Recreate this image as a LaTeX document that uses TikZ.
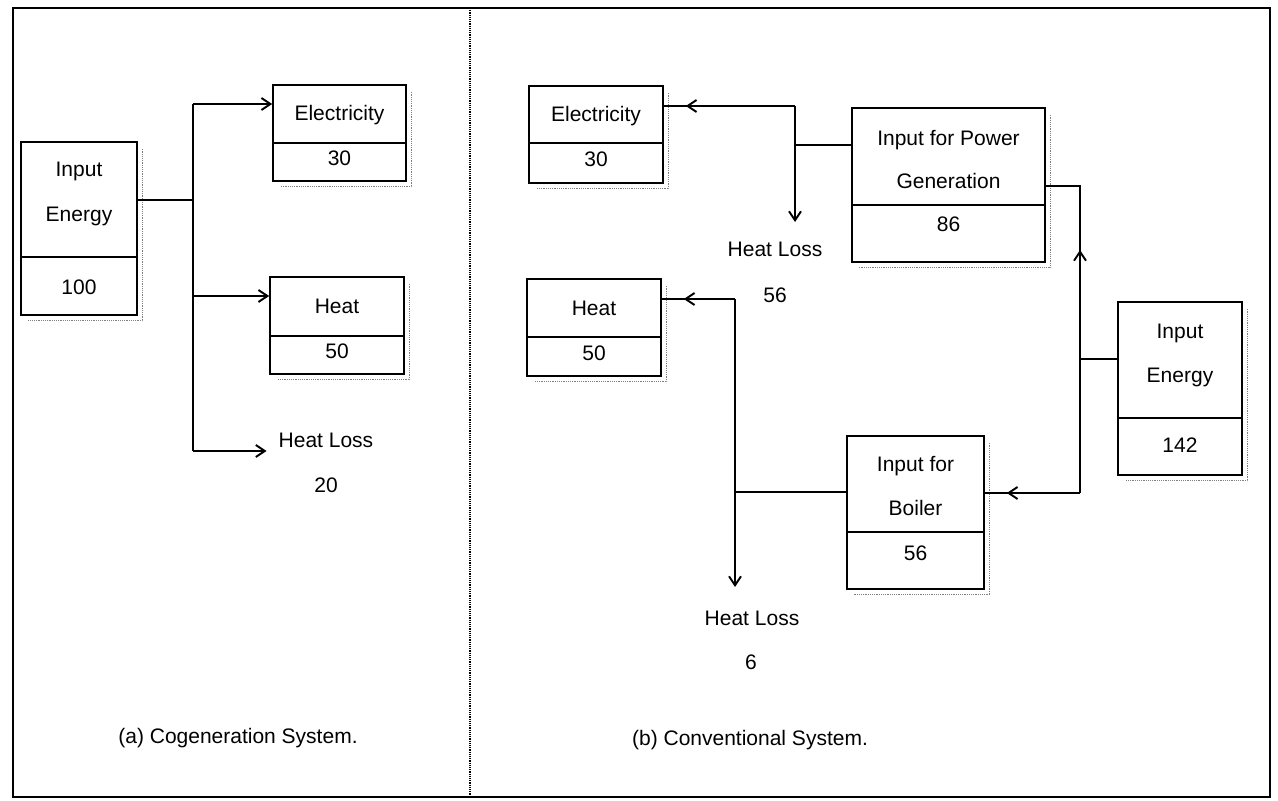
\documentclass[tikz,border=0pt]{standalone}
\usepackage{fontspec}
\setmainfont{Liberation Sans}
\usetikzlibrary{arrows.meta,decorations.markings,fit}
\newcommand{\mkbox}[6]{%
  \node[box, fit={(#2,#3) (#4,#5)}] (#1) {};
  \draw[box] (#1.west |- 0,#6) -- (#1.east |- 0,#6);
  \draw[shade] ([xshift=5pt,yshift=-8pt]#1.north east) -- ([xshift=5pt,yshift=-5pt]#1.south east) -- ([xshift=8pt,yshift=-5pt]#1.south west);
}
\begin{document}
\begin{tikzpicture}[x=1pt,y=-1pt,
  box/.style={draw, line width=1.7pt, inner sep=0pt},
  lbl/.style={font=\fontsize{21}{25}\selectfont, inner sep=0pt, text height=0.72em, text depth=0pt},
  conn/.style={line width=1.4pt},
  arr/.style={conn, -{Straight Barb[length=9pt,width=12pt,line width=1.9pt]}},
  shade/.style={gray, densely dotted, line width=1.2pt},
  midarr/.style={conn, postaction={decorate}, decoration={markings, mark=at position #1 with {\arrow{Straight Barb[length=9pt,width=12pt,line width=1.9pt]}}}},
]
\useasboundingbox (0,0) rectangle (1278,801);
% frame
\draw[line width=1.7pt] (13,8) rectangle (1270,797);
\draw[densely dotted, line width=1.2pt] (470,8) -- (470,797);

% ---------- (a) cogeneration ----------
\mkbox{ie1}{21}{142}{137}{315}{257}
\node[lbl] (ie1a) at (79,173) {Input};
\node[lbl] (ie1b) at (79,218) {Energy};
\node[lbl] (ie1c) at (79,291) {100};

\mkbox{el1}{273}{85}{406}{181}{143}
\node[lbl] (el1a) at (339.5,117) {Electricity};
\node[lbl] (el1b) at (339.5,162) {30};

\mkbox{he1}{270}{277}{404}{374}{336}
\node[lbl] (he1a) at (337,310) {Heat};
\node[lbl] (he1b) at (337,355) {50};

\node[lbl] (hl1) at (326,444) {Heat Loss};
\node[lbl] (hl1v) at (326,489) {20};

\coordinate (j1) at (193,200);
\coordinate (j1t) at (193,104);
\coordinate (j1m) at (193,296);
\coordinate (j1b) at (193,451);
\draw[conn] (ie1.east |- j1) -- (j1);
\draw[conn] (j1t) -- (j1b);
\draw[arr] (j1t) -- (j1t -| el1.west);
\draw[arr] (j1m) -- (j1m -| he1.west);
\draw[arr] (j1b) -- ([xshift=-12pt]j1b -| hl1.west);

\node[lbl] (capa) at (238,740) {(a) Cogeneration System.};

% ---------- (b) conventional ----------
\mkbox{el2}{529}{86}{663}{183}{143}
\node[lbl] (el2a) at (596,118) {Electricity};
\node[lbl] (el2b) at (596,163) {30};

\mkbox{he2}{527}{279}{661}{376}{337}
\node[lbl] (he2a) at (594,312) {Heat};
\node[lbl] (he2b) at (594,357) {50};

\mkbox{pg}{852}{108}{1045}{262}{205}
\node[lbl] (pga) at (948.5,142) {Input for Power};
\node[lbl] (pgb) at (948.5,185) {Generation};
\node[lbl] (pgc) at (948.5,228) {86};

\mkbox{bo}{847}{436}{984}{589}{532}
\node[lbl] (boa) at (915.5,468) {Input for};
\node[lbl] (bob) at (915.5,512) {Boiler};
\node[lbl] (boc) at (915.5,557) {56};

\mkbox{ie2}{1118}{302}{1242}{475}{418}
\node[lbl] (ie2a) at (1180,335) {Input};
\node[lbl] (ie2b) at (1180,379) {Energy};
\node[lbl] (ie2c) at (1180,449) {142};

\node[lbl] (hl2) at (775,253) {Heat Loss};
\node[lbl] (hl2v) at (775,299) {56};
\node[lbl] (hl3) at (752,622) {Heat Loss};
\node[lbl] (hl3v) at (751,666) {6};

% power generation branch
\coordinate (j2) at (795,145);
\coordinate (j2t) at (795,106);
\coordinate (t2) at (795,222);
\draw[conn] (pg.west |- j2) -- (j2);
\draw[midarr=-22pt] (j2t) -- (j2t -| el2.east);
\draw[arr] (j2t) -- (t2);

% boiler branch
\coordinate (j3t) at (735,299);
\coordinate (j3) at (735,492);
\coordinate (t3) at (735,587);
\draw[midarr=-22pt] (j3t) -- (j3t -| he2.east);
\draw[arr] (j3t) -- (t3);
\draw[conn] (j3) -- (j3 -| bo.west);

% input energy split
\coordinate (j4) at (1080,359);
\coordinate (j4b) at (1080,493);
\coordinate (j4t) at (1080,186);
\draw[conn] (ie2.west |- j4) -- (j4);
\draw[midarr=243pt] (j4b) -- (j4t) -- (j4t -| pg.east);
\draw[midarr=-22pt] (j4b) -- (j4b -| bo.east);

\node[lbl] (capb) at (750,742) {(b) Conventional System.};
\end{tikzpicture}
\end{document}
